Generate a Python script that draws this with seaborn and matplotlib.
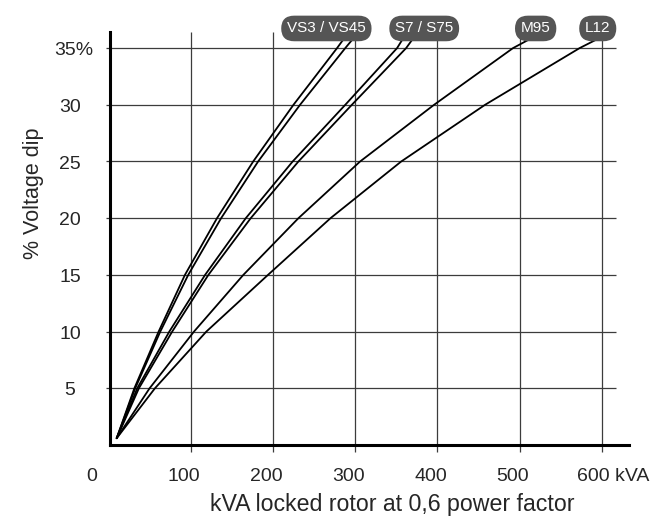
"""
Voltage dip vs locked rotor kVA, one curve per alternator frame
"""
import pandas as pd
import matplotlib.pyplot as plt
import seaborn as sns

sns.set_style('white')
plt.rcParams['font.family'] = ['Liberation Sans', 'DejaVu Sans']

# Data (kVA at each voltage dip level)
dip_levels = [0.6, 5, 10, 15, 20, 25, 30, 35, 35.7]
vs3_kva = [10, 31.5, 61, 93, 132, 176, 225, 278, 285]
vs45_kva = [10, 32.5, 63, 97, 137, 182, 233, 288, 296]
s7_kva = [10, 35, 74, 117.5, 167, 224, 288, 351, 357]
s75_kva = [10, 37, 77.5, 121.5, 173, 231, 296, 362, 369]
m95_kva = [10, 50, 104, 164, 231, 306, 396, 492, 510]
l12_kva = [10, 56.5, 119, 194, 270, 356, 458, 573, 592]

curves = {'VS3': vs3_kva, 'VS45': vs45_kva, 'S7': s7_kva,
          'S75': s75_kva, 'M95': m95_kva, 'L12': l12_kva}

tag_labels = ['VS3 / VS45', 'S7 / S75', 'M95', 'L12']
tag_x = [265, 384, 519.5, 595]
tag_y = 36.73

x_ticks = [100, 200, 300, 400, 500, 600]
y_ticks = [5, 10, 15, 20, 25, 30, 35]
y_tick_labels = ['5', '10', '15', '20', '25', '30', '35%']

rows = []
for name, kva in curves.items():
    for k, d in zip(kva, dip_levels):
        rows.append({'model': name, 'kva': k, 'dip': d})
df = pd.DataFrame(rows)

grid_c = '#3c3c3c'

fig = plt.figure(figsize=(6.71, 5.27), dpi=100)
ax = fig.add_axes([0.1641, 0.1556, 0.7733, 0.7833])

sns.lineplot(data=df, x='kva', y='dip', hue='model', estimator=None, sort=False,
             palette={m: 'black' for m in curves}, linewidth=1.3, legend=False, ax=ax)
ax.set_xlabel('')
ax.set_ylabel('')

ax.set_xlim(2, 633)
ax.set_ylim(0, 36.4)

# grid: vertical full height, horizontal stops short of the axis end
ax.vlines(x_ticks, 0, 36.4, color=grid_c, linewidth=0.9, zorder=0)
ax.hlines(y_ticks, 2, 617, color=grid_c, linewidth=0.9, zorder=0)

ax.set_xticks(x_ticks)
ax.set_yticks(y_ticks)
ax.set_xticklabels([])
ax.set_yticklabels([])
ax.tick_params(axis='x', direction='out', length=5, width=0.9, color=grid_c, bottom=True)
ax.tick_params(axis='y', direction='out', length=3, width=0.9, color=grid_c, left=True)

for side in ['top', 'right']:
    ax.spines[side].set_visible(False)
for side in ['left', 'bottom']:
    ax.spines[side].set_linewidth(2.2)
    ax.spines[side].set_color('black')

# tick labels placed by hand (they sit slightly left of the grid lines)
xt = ax.get_xaxis_transform()
for t in [100, 200, 300, 400, 500]:
    ax.text(t - 8.5, -0.0872, str(t), transform=xt, ha='center', va='baseline', fontsize=14)
ax.text(-20.7, -0.0872, '0', transform=xt, ha='center', va='baseline', fontsize=14)
ax.text(570, -0.0872, '600 kVA', transform=xt, ha='left', va='baseline', fontsize=14)

yt = ax.get_yaxis_transform()
for t, lab in zip(y_ticks, y_tick_labels):
    xpos = -0.0705 if lab.endswith('%') else -0.0773
    ax.text(xpos, t - 0.62, lab, transform=yt, ha='center', va='baseline', fontsize=14)

ax.text(345.5, -0.16, 'kVA locked rotor at 0,6 power factor', transform=xt,
        ha='center', va='baseline', fontsize=16.7)
ax.text(-0.1486, 0.6105, '% Voltage dip', transform=ax.transAxes, rotation=90,
        ha='center', va='center', fontsize=15.5)

# pill labels at the top of each curve pair
for lab, x in zip(tag_labels, tag_x):
    ax.text(x, tag_y, lab, ha='center', va='center', color='white', fontsize=11,
            clip_on=False, zorder=5,
            bbox=dict(boxstyle='round,pad=0.38,rounding_size=0.85', fc='#555555', ec='none'))

plt.savefig('out.png', dpi=100)
plt.close()
